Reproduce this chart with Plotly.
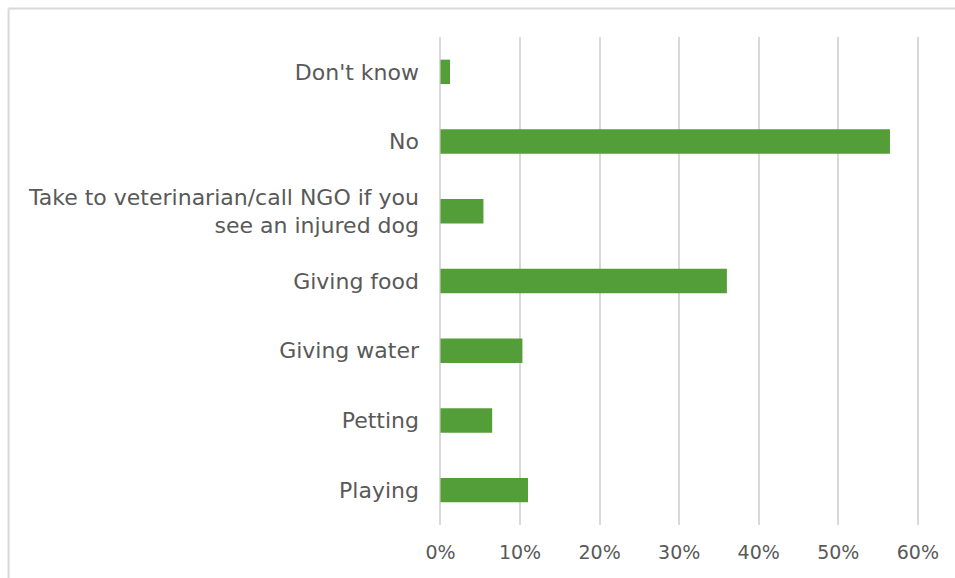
import plotly.graph_objects as go

categories = [
    "Playing",
    "Petting",
    "Giving water",
    "Giving food",
    "Take to veterinarian/call NGO if you<br>see an injured dog",
    "No",
    "Don't know",
]
values = [0.110, 0.065, 0.103, 0.360, 0.054, 0.565, 0.012]
tick_vals = [0, 0.1, 0.2, 0.3, 0.4, 0.5, 0.6]
tick_text = ["0%", "10%", "20%", "30%", "40%", "50%", "60%"]

W, H = 955, 578
x_lo, x_hi = -0.0006, 0.604
scale = 478 / 0.6  # pixels per unit
L = 440 + x_lo * scale
plot_w = (x_hi - x_lo) * scale
R = W - L - plot_w
T, B = 37, 53
pw, ph = plot_w, H - T - B

def px(x):
    return (x - L) / pw

def py(y):
    return (H - B - y) / ph

fig = go.Figure(
    go.Bar(
        x=values,
        y=categories,
        orientation="h",
        marker=dict(color="#549E3A", line=dict(width=0)),
        hoverinfo="skip",
    )
)

fig.update_layout(
    width=W,
    height=H,
    margin=dict(l=L, r=R, t=T, b=B, autoexpand=False),
    paper_bgcolor="white",
    plot_bgcolor="white",
    bargap=0.65,
    showlegend=False,
    font=dict(family="DejaVu Sans", size=18, color="#595959"),
    xaxis=dict(
        range=[x_lo, x_hi],
        tickvals=tick_vals,
        ticktext=tick_text,
        showgrid=True,
        gridcolor="#D9D9D9",
        gridwidth=2,
        zeroline=True,
        zerolinecolor="#D9D9D9",
        zerolinewidth=2,
        showline=False,
        ticks="",
        ticklabelstandoff=14,
        tickfont=dict(size=19, color="#595959"),
    ),
    yaxis=dict(
        showgrid=False,
        zeroline=False,
        showline=False,
        ticks="",
        ticklabelstandoff=20,
        tickfont=dict(size=22, color="#595959"),
    ),
    shapes=[
        dict(type="line", xref="paper", yref="paper",
             x0=px(7.5), x1=px(960), y0=py(8.5), y1=py(8.5),
             line=dict(color="#D9D9D9", width=2)),
        dict(type="line", xref="paper", yref="paper",
             x0=px(7.5), x1=px(7.5), y0=py(8.5), y1=py(585),
             line=dict(color="#D9D9D9", width=2)),
    ],
)

fig.write_html("out.html")
